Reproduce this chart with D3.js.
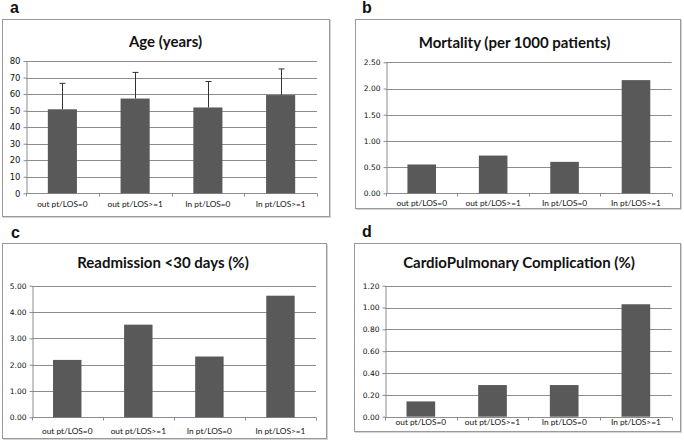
<!DOCTYPE html>
<html>
<head>
<meta charset="utf-8">
<script src="https://cdn.jsdelivr.net/npm/d3@7"></script>
<style>
  body { margin: 0; background: #fff; }
  svg { display: block; }
  text { font-family: Lato, "Open Sans", sans-serif; fill: #111; }
</style>
</head>
<body>
<script>
// chart data
var categories = ["out pt/LOS=0", "out pt/LOS>=1", "In pt/LOS=0", "In pt/LOS>=1"];
var ageMean = [50.8, 57.3, 51.9, 59.4];
var ageSD = [15.7, 15.8, 15.7, 15.8];
var mortality = [0.55, 0.72, 0.60, 2.16];
var readmission = [2.18, 3.52, 2.31, 4.62];
var cardio = [0.14, 0.29, 0.29, 1.03];
var ageTicks = [0, 10, 20, 30, 40, 50, 60, 70, 80];
var mortTicks = [0, 0.5, 1, 1.5, 2, 2.5];
var readTicks = [0, 1, 2, 3, 4, 5];
var cardioTicks = [0, 0.2, 0.4, 0.6, 0.8, 1.0, 1.2];

var width = 684, height = 442;
var svg = d3.select("body").append("svg")
    .attr("width", width)
    .attr("height", height);

function panel(opt) {
    var g = svg.append("g");
    // panel letter
    g.append("text")
        .attr("x", opt.letter[0]).attr("y", opt.letter[1])
        .style("font-family", "Arial, 'Liberation Sans', sans-serif")
        .style("font-weight", "bold").style("font-size", "16px")
        .text(opt.label);
    // outer frame with a faint shadow
    g.append("rect")
        .attr("x", opt.box[0] + 1.5).attr("y", opt.box[1] + 1.5)
        .attr("width", opt.box[2] - opt.box[0]).attr("height", opt.box[3] - opt.box[1])
        .attr("fill", "none").attr("stroke", "#d4d4d4");
    g.append("rect")
        .attr("x", opt.box[0] + 0.5).attr("y", opt.box[1] + 0.5)
        .attr("width", opt.box[2] - opt.box[0]).attr("height", opt.box[3] - opt.box[1])
        .attr("fill", "#fff").attr("stroke", "#9a9a9a");
    g.append("text")
        .attr("x", (opt.box[0] + opt.box[2]) / 2 + opt.titleDx).attr("y", opt.titleY)
        .attr("text-anchor", "middle")
        .style("font-weight", "bold").style("font-size", "15px")
        .text(opt.title);

    var x = d3.scaleBand().domain(categories).range([opt.plot[0], opt.plot[1]]).paddingInner(0.6).paddingOuter(0.3);
    var y = d3.scaleLinear().domain([0, d3.max(opt.ticks)]).range([opt.plot[3], opt.plot[2]]);

    // gridlines
    g.selectAll(".grid").data(opt.ticks.slice(1)).enter().append("line")
        .attr("x1", opt.plot[0]).attr("x2", opt.plot[1])
        .attr("y1", function(d) { return Math.round(y(d)) + 0.5; })
        .attr("y2", function(d) { return Math.round(y(d)) + 0.5; })
        .attr("stroke", "#8c8c8c");

    // y axis
    var yAxis = d3.axisLeft(y).tickValues(opt.ticks).tickSize(3).tickSizeOuter(0)
        .tickFormat(opt.fmt);
    var ya = g.append("g").attr("transform", "translate(" + (Math.round(opt.plot[0]) + 0.5) + ",0)").call(yAxis);
    ya.select(".domain").attr("stroke", "#8c8c8c");
    ya.selectAll(".tick line").attr("stroke", "#8c8c8c");
    ya.selectAll(".tick text").attr("x", -6)
        .style("font-family", "'DejaVu Sans', Verdana, sans-serif")
        .style("font-size", opt.tickFont).attr("fill", "#222");

    // x axis
    var xa = g.append("g").attr("transform", "translate(0," + (Math.round(opt.plot[3]) + 0.5) + ")");
    xa.append("line").attr("x1", opt.plot[0]).attr("x2", opt.plot[1]).attr("stroke", "#8c8c8c");
    var step = (opt.plot[1] - opt.plot[0]) / categories.length;
    xa.selectAll(".xt").data(d3.range(categories.length + 1)).enter().append("line")
        .attr("x1", function(i) { return Math.round(opt.plot[0] + i * step) + 0.5; })
        .attr("x2", function(i) { return Math.round(opt.plot[0] + i * step) + 0.5; })
        .attr("y1", 0).attr("y2", 3).attr("stroke", "#8c8c8c");
    xa.selectAll(".xl").data(categories).enter().append("text")
        .attr("x", function(d) { return x(d) + x.bandwidth() / 2; })
        .attr("y", opt.catY - Math.round(opt.plot[3]))
        .attr("text-anchor", "middle")
        .style("font-size", "8.3px")
        .text(function(d) { return d; });

    // bars
    g.selectAll(".bar").data(opt.values).enter().append("rect")
        .attr("x", function(d, i) { return x(categories[i]); })
        .attr("width", x.bandwidth())
        .attr("y", function(d) { return y(d); })
        .attr("height", function(d) { return y(0) - y(d); })
        .attr("fill", "#595959");

    // error bars (upper only)
    if (opt.err) {
        opt.values.forEach(function(v, i) {
            var cx = Math.round(x(categories[i]) + x.bandwidth() / 2) + 0.5;
            g.append("line").attr("x1", cx).attr("x2", cx)
                .attr("y1", y(v)).attr("y2", y(v + opt.err[i]))
                .attr("stroke", "#333");
            g.append("line").attr("x1", cx - 3).attr("x2", cx + 3)
                .attr("y1", y(v + opt.err[i])).attr("y2", y(v + opt.err[i]))
                .attr("stroke", "#333");
        });
    }
}

panel({
    label: "a", letter: [10, 13],
    box: [2, 19, 329, 216], plot: [26, 317, 61, 193.3],
    title: "Age (years)", titleY: 47, titleDx: 0,
    values: ageMean, err: ageSD, ticks: ageTicks,
    fmt: d3.format("d"), tickFont: "8.5px", catY: 206
});
panel({
    label: "b", letter: [362, 13],
    box: [355, 19, 680, 208], plot: [386, 671.7, 62.3, 193.3],
    title: "Mortality (per 1000 patients)", titleY: 48, titleDx: -3,
    values: mortality, ticks: mortTicks,
    fmt: d3.format(".2f"), tickFont: "7.5px", catY: 205
});
panel({
    label: "c", letter: [11, 238],
    box: [2, 243, 326, 438], plot: [31.7, 316, 285.7, 417.3],
    title: "Readmission <30 days (%)", titleY: 268, titleDx: -1,
    values: readmission, ticks: readTicks,
    fmt: d3.format(".2f"), tickFont: "7.5px", catY: 433
});
panel({
    label: "d", letter: [362, 237],
    box: [354, 243, 680, 431], plot: [385, 671.7, 285.7, 416.7],
    title: "CardioPulmonary Complication (%)", titleY: 268, titleDx: 2,
    values: cardio, ticks: cardioTicks,
    fmt: d3.format(".2f"), tickFont: "7.5px", catY: 424
});
</script>
</body>
</html>
